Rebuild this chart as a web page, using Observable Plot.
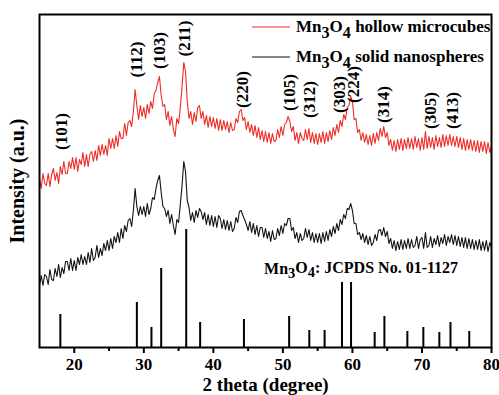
<!DOCTYPE html>
<html><head><meta charset="utf-8">
<script src="https://cdn.jsdelivr.net/npm/d3@7"></script>
<script src="https://cdn.jsdelivr.net/npm/@observablehq/plot@0.6"></script>
<style>
body{margin:0;background:#fff;}
#wrap{position:relative;width:499px;height:395px;font-family:"Liberation Serif","Times New Roman",serif;font-weight:bold;}
.legend{position:absolute;left:252px;top:12px;font-size:17px;}
.row{display:flex;align-items:center;height:30px;white-space:nowrap}
.sw{display:block;margin-right:6px}
sub{font-size:95%;vertical-align:-0.35em;line-height:0}
</style></head><body><div id="wrap"></div>
<script>
// scan grid: 2θ from 15° to 80° in 0.25° steps
const scanStart = 15, scanStep = 0.25;

// Mn3O4 hollow microcubes (red), intensity a.u.
const hollow = [
169,159,174,164, 162,174,161,173, 179,167,175,164, 181,173,186,174, 174,186,179,190,
178,190,176,188, 183,195,181,193, 181,193,196,186, 197,187,202,192, 203,193,202,192,
209,199,209,199, 212,201,216,209, 209,224,212,225, 227,221,236,258, 242,228,242,231,
240,229,243,234, 246,239,254,257, 265,271,252,241, 243,228,236,222, 231,218,211,229,
224,240,261,285, 276,246,229,236, 223,235,226,240, 242,229,236,223, 232,220,231,221,
230,219,229,217, 228,217,227,218, 226,215,225,217, 218,229,225,236, 238,227,230,218,
226,215,223,212, 222,210,220,208, 217,206,216,205, 215,204,214,206, 207,218,210,221,
212,223,225,231, 226,216,221,207, 215,204,215,209, 207,218,208,219, 205,215,204,214,
203,214,205,216, 204,215,206,217, 208,220,212,223, 215,227,221,233, 228,240,242,251,
246,228,229,215, 218,207,215,205, 213,203,212,202, 214,204,215,207, 219,211,221,210,
215,202,208,197, 207,196,208,198, 209,197,208,199, 210,199,209,198, 211,200,209,197,
210,198,216,199, 211,200,210,198, 212,201,210,200, 213,201,212,202, 213,202,211,201,
211,200,210,198, 209,197,208,198, 208,197,207,196, 207,195,206,196, 206,194,205,195,
201];

// Mn3O4 solid nanospheres (black)
const solid = [
62,72,62,73, 71,63,78,68, 67,79,71,83, 70,80,74,86, 86,77,89,77,
87,77,90,83, 93,83,91,83, 95,85,99,87, 90,102,90,99, 92,104,97,107,
97,109,99,111, 105,115,105,119, 109,122,116,127, 129,121,137,159, 141,132,141,133,
141,131,144,133, 139,150,148,159, 167,172,155,141, 139,131,137,124, 133,122,113,128,
125,143,162,186, 176,147,140,127, 135,125,137,130, 139,136,128,135, 123,133,122,132,
121,131,120,132, 129,119,128,118, 127,117,126,116, 119,130,125,136, 137,132,128,123,
117,126,115,124, 113,122,111,120, 120,110,119,109, 116,106,117,108, 109,119,112,122,
114,124,122,129, 129,117,120,109, 115,105,114,107, 109,119,110,118, 107,115,105,114,
105,114,104,115, 106,116,107,118, 111,121,114,124, 117,128,123,133, 129,139,138,144,
137,124,124,113, 115,108,114,105, 112,103,111,102, 105,113,107,117, 118,112,120,111,
116,104,109,99, 107,97,106,98, 108,98,107,99, 109,99,108,100, 102,111,99,108,
110,99,115,100, 102,111,100,109, 103,112,101,110, 104,113,102,111, 105,113,103,112,
102,111,101,110, 100,110,99,109, 99,108,98,107, 98,108,97,106, 97,107,96,105,
100];

// JCPDS No. 01-1127 reference lines
const stickPos = [18.0,29.0,31.1,32.5,36.1,38.1,44.4,50.9,53.8,56.0,58.5,59.8,63.2,64.6,67.9,70.2,72.5,74.1,76.8];
const stickH   = [33,45,20,79,118,25,28,31,17,17,65,65,15,31,16,20,15,25,16];

// peak (hkl) labels
const hklText = ["(101)","(112)","(103)","(211)","(220)","(105)","(312)","(303)","(224)","(314)","(305)","(413)"];
const hklX    = [18.1,28.9,32.3,35.8,44.25,51.0,53.9,58.2,60.2,64.5,71.3,74.4];
const hklY    = [216,288,297,309,258,255,248,253,263,243,237,237];

const majorTicks = [20,30,40,50,60,70,80];
const minorTicks = [25,35,45,55,65,75];
const seriesNames = ["Mn3O4 hollow microcubes","Mn3O4 solid nanospheres"];
const seriesColors = ["#ee2b25","#111111"];
const refText = "Mn3O4: JCPDS No. 01-1127";
const refX = 47.3, refY = 79;

const toRows = arr => arr.map((v,i)=>({theta: scanStart + i*scanStep, I: v}));
const sticks = stickPos.map((p,i)=>({pos:p, h:stickH[i]}));
const labels = hklText.map((t,i)=>({t, x:hklX[i], y:hklY[i]}));

const plot = Plot.plot({
  width: 499, height: 395,
  marginLeft: 39, marginRight: 8, marginTop: 14, marginBottom: 48,
  style: {fontFamily: '"Liberation Serif", "Times New Roman", serif', fontWeight: "bold", fontSize: "17px", background: "white", color: "black"},
  x: {domain: [15, 80]},
  y: {domain: [0, 333]},
  marks: [
    Plot.ruleX(sticks, {x: "pos", y1: 0, y2: "h", stroke: "black", strokeWidth: 2}),
    Plot.line(toRows(hollow), {x: "theta", y: "I", stroke: seriesColors[0], strokeWidth: 1.1}),
    Plot.line(toRows(solid), {x: "theta", y: "I", stroke: seriesColors[1], strokeWidth: 1.1}),
    Plot.text(labels, {x: "x", y: "y", text: "t", rotate: -90, fontSize: 17, fontWeight: "bold", fill: "black"}),
    Plot.text([refText], {x: [refX], y: [refY], text: d => d, textAnchor: "start", fontSize: 16, fontWeight: "bold", fill: "black"}),
    Plot.axisX({ticks: majorTicks, tickSize: 6, tickPadding: 4, strokeWidth: 2, fontSize: 17, label: null}),
    Plot.axisX({ticks: minorTicks, tickSize: 4, strokeWidth: 2, text: null, label: null}),
    Plot.axisX({ticks: [], label: "2 theta (degree)", labelAnchor: "center", labelArrow: "none", labelOffset: 43, fontSize: 19}),
    Plot.axisY({ticks: [], label: "Intensity (a.u.)", labelAnchor: "center", labelArrow: "none", labelOffset: 30, fontSize: 20}),
    Plot.frame({stroke: "black", strokeWidth: 2})
  ]
});

// subscripts for chemical formula
const NS = "http://www.w3.org/2000/svg";
plot.querySelectorAll("text").forEach(el => {
  const s = el.textContent;
  if (s.startsWith("Mn3O4")) {
    const rest = s.slice(5);
    el.textContent = "";
    const parts = [["Mn",null],["3","0.3em"],["O","-0.3em"],["4","0.3em"],[rest,"-0.3em"]];
    parts.forEach(([t,dy],k)=>{
      const ts = document.createElementNS(NS,"tspan");
      ts.textContent = t;
      if (dy) ts.setAttribute("dy", dy);
      if (k===1||k===3) ts.setAttribute("font-size","90%");
      el.appendChild(ts);
    });
  }
});

const wrap = document.getElementById("wrap");
wrap.appendChild(plot);
const leg = document.createElement("div");
leg.className = "legend";
seriesNames.forEach((n,i)=>{
  const row = document.createElement("div");
  row.className = "row";
  const sw = document.createElementNS(NS, "svg");
  sw.setAttribute("class", "sw");
  sw.setAttribute("width", "38"); sw.setAttribute("height", "4");
  const ln = document.createElementNS(NS, "line");
  ln.setAttribute("x1", "0"); ln.setAttribute("x2", "38");
  ln.setAttribute("y1", "2"); ln.setAttribute("y2", "2");
  ln.setAttribute("stroke", seriesColors[i]); ln.setAttribute("stroke-width", "1.2");
  sw.appendChild(ln);
  const tx = document.createElement("span");
  tx.innerHTML = n.replace("Mn3O4","Mn<sub>3</sub>O<sub>4</sub>");
  row.appendChild(sw); row.appendChild(tx);
  leg.appendChild(row);
});
wrap.appendChild(leg);
</script></body></html>
